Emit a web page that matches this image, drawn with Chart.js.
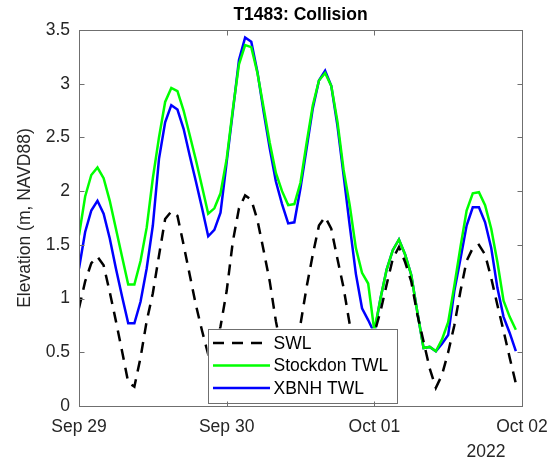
<!DOCTYPE html>
<html>
<head>
<meta charset="utf-8">
<title>T1483: Collision</title>
<script src="https://cdn.jsdelivr.net/npm/chart.js@4"></script>
<style>
  html, body { margin: 0; padding: 0; background: #fff; }
  #wrap { width: 549px; height: 469px; }
</style>
</head>
<body>
<div id="wrap"><canvas id="c" width="549" height="469"></canvas></div>
<script>
// Hourly water levels (m, NAVD88), starting Sep 29 2022 00:00
const swl = [
  0.91, 1.16, 1.33, 1.39, 1.31, 1.06, 0.79, 0.51, 0.22, 0.18, 0.45, 0.79,
  1.05, 1.40, 1.74, 1.81, 1.77, 1.50, 1.22, 0.94, 0.70, 0.48, 0.50, 0.74,
  1.07, 1.53, 1.84, 1.96, 1.92, 1.73, 1.45, 1.16, 0.79, 0.50, 0.38, 0.48,
  0.76, 1.11, 1.41, 1.68, 1.76, 1.65, 1.37, 1.10, 0.76, 0.55, 0.48, 0.55,
  0.68, 0.88, 1.13, 1.37, 1.48, 1.34, 1.16, 0.85, 0.60, 0.35, 0.17, 0.29,
  0.50, 0.75, 1.07, 1.35, 1.47, 1.50, 1.41, 1.19, 0.94, 0.70, 0.45, 0.21
];
const stockdonTwl = [
  1.59, 1.95, 2.15, 2.22, 2.12, 1.91, 1.65, 1.39, 1.13, 1.13, 1.35, 1.66,
  2.12, 2.50, 2.83, 2.96, 2.93, 2.75, 2.52, 2.29, 2.04, 1.79, 1.84, 1.98,
  2.30, 2.76, 3.18, 3.36, 3.34, 3.10, 2.78, 2.45, 2.17, 2.00, 1.87, 1.88,
  2.08, 2.45, 2.80, 3.03, 3.10, 2.98, 2.65, 2.20, 1.87, 1.47, 1.24, 1.14,
  0.70, 1.00, 1.27, 1.45, 1.55, 1.41, 1.22, 0.87, 0.54, 0.55, 0.51, 0.62,
  0.78, 1.12, 1.48, 1.82, 1.98, 1.99, 1.87, 1.65, 1.34, 0.98, 0.83, 0.71
];
const xbnhTwl = [
  1.28, 1.62, 1.82, 1.91, 1.79, 1.56, 1.28, 1.02, 0.77, 0.77, 0.97, 1.28,
  1.68, 2.30, 2.64, 2.80, 2.76, 2.58, 2.33, 2.09, 1.84, 1.58, 1.64, 1.80,
  2.27, 2.74, 3.22, 3.43, 3.39, 3.11, 2.74, 2.40, 2.09, 1.88, 1.70, 1.71,
  2.03, 2.40, 2.77, 3.03, 3.12, 2.98, 2.61, 2.15, 1.68, 1.23, 0.91, 0.80,
  0.68, 1.00, 1.27, 1.45, 1.55, 1.41, 1.22, 0.87, 0.54, 0.55, 0.51, 0.58,
  0.66, 1.07, 1.37, 1.68, 1.85, 1.85, 1.71, 1.47, 1.10, 0.83, 0.68, 0.51
];
const dayLabels = ['Sep 29', 'Sep 30', 'Oct 01', 'Oct 02'];
const yearLabel = '2022';

const FONT = '"Liberation Sans", Arial, Helvetica, sans-serif';
const FS = 17.5;
const TXT = '#262626';
const AXIS = '#6f6f6f';
const LW = 2.5;

const toPoints = arr => arr.map((v, h) => ({ x: h, y: v }));

// Boxed axes with inward ticks, an in-plot legend and the year stamp
const framePlugin = {
  id: 'frame',
  afterDatasetsDraw(chart) {
    const { ctx, chartArea: a, scales: { x, y } } = chart;
    ctx.save();

    // legend panel (opaque, sits over the curves)
    const lg = { l: a.left + 128.5, t: a.top + 298.5, r: a.left + 317, b: a.top + 372 };
    ctx.fillStyle = '#fff';
    ctx.fillRect(lg.l, lg.t, lg.r - lg.l, lg.b - lg.t);
    ctx.strokeStyle = AXIS;
    ctx.lineWidth = 1;
    ctx.strokeRect(Math.round(lg.l) + 0.5, Math.round(lg.t) + 0.5,
                   Math.round(lg.r - lg.l), Math.round(lg.b - lg.t));
    const rows = [14.5, 37, 59.5];
    ctx.font = `${FS}px ${FONT}`;
    ctx.textBaseline = 'middle';
    ctx.textAlign = 'left';
    chart.data.datasets.forEach((ds, i) => {
      const ry = lg.t + rows[i];
      ctx.beginPath();
      ctx.strokeStyle = ds.borderColor;
      ctx.lineWidth = ds.borderWidth;
      ctx.setLineDash(ds.borderDash || []);
      ctx.moveTo(lg.l + 5.5, ry);
      ctx.lineTo(lg.l + 62.5, ry);
      ctx.stroke();
      ctx.setLineDash([]);
      ctx.fillStyle = '#000';
      ctx.fillText(ds.label, lg.l + 66, ry + 1);
    });

    // axes box
    ctx.strokeStyle = AXIS;
    ctx.lineWidth = 1;
    const L = Math.round(a.left) + 0.5, R = Math.round(a.right) + 0.5;
    const T = Math.round(a.top) + 0.5, B = Math.round(a.bottom) + 0.5;
    ctx.strokeRect(L, T, R - L, B - T);

    // inward ticks on all four sides
    const TL = 5;
    ctx.beginPath();
    x.ticks.forEach(t => {
      const px = Math.round(x.getPixelForValue(t.value)) + 0.5;
      ctx.moveTo(px, B); ctx.lineTo(px, B - TL);
      ctx.moveTo(px, T); ctx.lineTo(px, T + TL);
    });
    y.ticks.forEach(t => {
      const py = Math.round(y.getPixelForValue(t.value)) + 0.5;
      ctx.moveTo(L, py); ctx.lineTo(L + TL, py);
      ctx.moveTo(R, py); ctx.lineTo(R - TL, py);
    });
    ctx.stroke();

    // year under the last date label
    ctx.fillStyle = TXT;
    ctx.textAlign = 'center';
    ctx.font = `${FS}px ${FONT}`;
    ctx.fillText(yearLabel, a.right - 36, a.bottom + 46);

    ctx.restore();
  }
};

new Chart(document.getElementById('c'), {
  type: 'line',
  data: {
    datasets: [
      {
        label: 'SWL',
        data: toPoints(swl),
        borderColor: '#000000',
        borderWidth: LW,
        borderDash: [11, 8],
        pointRadius: 0,
        tension: 0,
        fill: false
      },
      {
        label: 'Stockdon TWL',
        data: toPoints(stockdonTwl),
        borderColor: '#00ff00',
        borderWidth: LW,
        pointRadius: 0,
        tension: 0,
        fill: false
      },
      {
        label: 'XBNH TWL',
        data: toPoints(xbnhTwl),
        borderColor: '#0000ff',
        borderWidth: LW,
        pointRadius: 0,
        tension: 0,
        fill: false
      }
    ]
  },
  options: {
    responsive: false,
    devicePixelRatio: 1,
    animation: false,
    layout: { padding: { left: 0, right: 27, top: 0, bottom: 0 } },
    plugins: {
      legend: { display: false },
      tooltip: { enabled: false },
      title: {
        display: true,
        fullSize: false,
        text: 'T1483: Collision',
        color: '#000',
        font: { family: FONT, size: FS, weight: 'bold', lineHeight: 1.2 },
        padding: { top: 5, bottom: 4 }
      }
    },
    scales: {
      x: {
        type: 'linear',
        min: 0,
        max: 72,
        grid: { display: false, drawTicks: false },
        border: { display: false },
        ticks: {
          stepSize: 24,
          autoSkip: false,
          maxRotation: 0,
          padding: 11,
          color: TXT,
          font: { family: FONT, size: FS },
          callback: v => dayLabels[Math.round(v / 24)]
        },
        afterFit: s => { s.height = 63; s.paddingLeft = 0; s.paddingRight = 0; }
      },
      y: {
        min: 0,
        max: 3.5,
        grid: { display: false, drawTicks: false },
        border: { display: false },
        ticks: {
          stepSize: 0.5,
          padding: 9,
          color: TXT,
          font: { family: FONT, size: FS },
          callback: v => String(Math.round(v * 10) / 10)
        },
        title: {
          display: true,
          text: 'Elevation (m, NAVD88)',
          color: TXT,
          font: { family: FONT, size: FS },
          padding: { top: 14.5, bottom: 0 }
        },
        afterFit: s => { s.width = 79; s.paddingTop = 0; s.paddingBottom = 0; }
      }
    }
  },
  plugins: [framePlugin]
});
</script>
</body>
</html>
